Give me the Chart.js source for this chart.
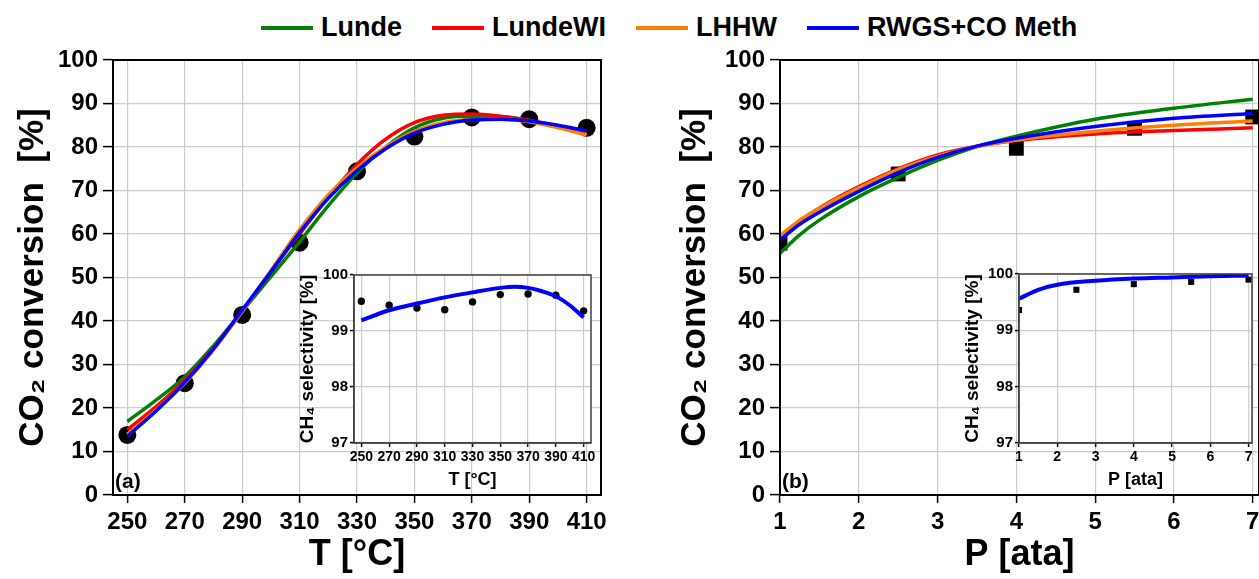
<!DOCTYPE html>
<html>
<head>
<meta charset="utf-8">
<script src="https://cdn.jsdelivr.net/npm/chart.js@4"></script>
<style>
  html, body { margin: 0; padding: 0; background: #fff; }
  body { position: relative; width: 1259px; height: 579px; overflow: hidden; }
  canvas { position: absolute; }
  #leyenda { position: absolute; left: 261px; top: 12px; display: flex; align-items: center;
             font: bold 27px "Liberation Sans", Arial, sans-serif; line-height: 31px; }
  .item { display: flex; align-items: center; margin-right: 30px; }
  .linea { width: 52px; height: 4px; margin-right: 8px; }
</style>
</head>
<body>
<div id="leyenda"></div>
<canvas id="convT" width="640" height="579" style="left:0;top:0"></canvas>
<canvas id="convP" width="640" height="579" style="left:640px;top:0"></canvas>
<canvas id="selT" width="320" height="240" style="left:290px;top:255px"></canvas>
<canvas id="selP" width="310" height="240" style="left:955px;top:255px"></canvas>
<script>
// Conversión de CO2 y selectividad a CH4: modelos cinéticos frente a datos experimentales
const seriesNames = ['Lunde', 'LundeWI', 'LHHW', 'RWGS+CO Meth'];
const seriesColors = ['#008000', '#ff0000', '#ff8000', '#0000ff'];

// (a) efecto de la temperatura
const tModel = [250, 260, 270, 280, 290, 300, 310, 320, 330, 340, 350, 360, 370, 380, 390, 400, 410];
const convLundeT   = [16.9, 21.8, 27.2, 34.3, 42.2, 50.2, 58.2, 66.5, 74.0, 80.0, 84.4, 86.6, 87.1, 87.0, 86.1, 84.7, 83.1];
const convLundeWIT = [15.0, 20.3, 26.4, 33.7, 42.3, 51.3, 60.0, 68.5, 76.0, 81.8, 85.6, 87.3, 87.6, 87.1, 86.1, 84.6, 83.0];
const convLHHWT    = [14.0, 19.5, 25.7, 33.4, 42.2, 51.6, 61.0, 69.0, 75.2, 80.0, 83.6, 85.6, 86.3, 86.4, 85.8, 84.4, 82.8];
const convRWGST    = [13.5, 19.3, 25.9, 33.6, 42.5, 51.3, 60.3, 68.2, 74.6, 79.6, 83.2, 85.2, 86.2, 86.4, 86.0, 85.0, 83.7];
const tExp = [250, 270, 290, 310, 330, 350, 370, 390, 410];
const convExpT = [13.8, 25.7, 41.4, 58.0, 74.4, 82.4, 86.8, 86.4, 84.4];
const tSel = [250, 270, 290, 310, 330, 350, 360, 370, 380, 390, 400, 410];
const selModelT = [99.19, 99.37, 99.49, 99.60, 99.69, 99.77, 99.79, 99.77, 99.71, 99.62, 99.46, 99.24];
const selExpT = [99.53, 99.46, 99.41, 99.38, 99.52, 99.65, 99.66, 99.64, 99.36];

// (b) efecto de la presión
const pModel = [1, 1.25, 1.5, 2, 2.5, 3, 3.5, 4, 5, 6, 7];
const convLundeP   = [55.6, 59.8, 63.2, 68.6, 73.0, 76.9, 80.1, 82.5, 86.4, 88.9, 91.0];
const convLundeWIP = [59.1, 63.0, 66.0, 70.9, 75.0, 78.2, 80.2, 81.5, 83.0, 83.8, 84.4];
const convLHHWP    = [59.6, 63.2, 65.9, 70.6, 74.8, 77.9, 80.1, 81.6, 83.6, 85.0, 86.0];
const convRWGSP    = [58.6, 62.2, 65.0, 69.8, 74.1, 77.6, 80.2, 82.0, 84.7, 86.6, 87.7];
const pExp = [1, 2.5, 4, 5.5, 7];
const convExpP = [57.9, 73.8, 79.7, 84.3, 86.9];
const pSel = [1, 1.5, 2, 3, 4, 5, 6, 7];
const selModelP = [99.56, 99.72, 99.81, 99.88, 99.92, 99.94, 99.96, 99.97];
const selExpP = [99.36, 99.72, 99.82, 99.86, 99.90];

// marcas de los ejes
const convTicks = [0, 10, 20, 30, 40, 50, 60, 70, 80, 90, 100];
const tTicks = [250, 270, 290, 310, 330, 350, 370, 390, 410];
const pTicks = [1, 2, 3, 4, 5, 6, 7];
const selTicks = [97, 98, 99, 100];

Chart.defaults.font.family = '"Liberation Sans", Arial, sans-serif';
Chart.defaults.font.weight = 'bold';
Chart.defaults.color = '#000';

// leyenda común arriba
const leyenda = document.getElementById('leyenda');
seriesNames.forEach((n, i) => {
  const it = document.createElement('div');
  it.className = 'item';
  it.innerHTML = '<span class="linea" style="background:' + seriesColors[i] + '"></span>' + n;
  leyenda.appendChild(it);
});

const pts = (xs, ys) => xs.map((x, i) => ({ x: x, y: ys[i] }));

// marco, fondo blanco y rótulo (a)/(b)
const marco = {
  id: 'marco',
  beforeDraw(chart, args, o) {
    if (!o.fondo) return;
    const a = chart.chartArea, ctx = chart.ctx;
    ctx.save();
    ctx.fillStyle = '#fff';
    ctx.fillRect(a.left, a.top, a.right - a.left, a.bottom - a.top);
    ctx.restore();
  },
  afterDraw(chart, args, o) {
    const a = chart.chartArea, ctx = chart.ctx;
    ctx.save();
    ctx.strokeStyle = o.color;
    ctx.lineWidth = o.ancho;
    ctx.strokeRect(a.left, a.top, a.right - a.left, a.bottom - a.top);
    if (o.rotulo) {
      ctx.fillStyle = '#000';
      ctx.font = 'bold 21px "Liberation Sans", Arial, sans-serif';
      ctx.textBaseline = 'bottom';
      ctx.fillText(o.rotulo, a.left + 2, a.bottom - 2);
    }
    ctx.restore();
  }
};

function curva(xs, ys, i, ancho) {
  return {
    label: seriesNames[i], data: pts(xs, ys), borderColor: seriesColors[i],
    borderWidth: ancho, pointRadius: 0, cubicInterpolationMode: 'monotone',
    fill: false, order: 4 - i
  };
}

function puntos(xs, ys, estilo, radio, recorte) {
  const d = {
    label: 'exp', data: pts(xs, ys), showLine: false, pointStyle: estilo,
    pointRadius: radio, pointBackgroundColor: '#000', pointBorderColor: '#000',
    pointBorderWidth: 0, order: 5
  };
  if (recorte !== undefined) d.clip = recorte;
  return d;
}

function eje(cfg) {
  return {
    type: 'linear', min: cfg.min, max: cfg.max,
    afterBuildTicks: s => { s.ticks = cfg.ticks.map(v => ({ value: v })); },
    afterFit: s => {
      if (cfg.ancho) s.width = cfg.ancho;
      if (cfg.alto) s.height = cfg.alto;
      s.paddingLeft = 0; s.paddingRight = 0;
    },
    border: { color: cfg.borde, width: cfg.grosor },
    grid: { color: '#cccccc', lineWidth: 1.2, tickColor: '#000', tickLength: cfg.tick, tickWidth: 1.5 },
    ticks: { font: { size: cfg.fuente }, padding: cfg.pad, maxRotation: 0, autoSkip: false },
    title: { display: true, text: cfg.titulo, font: { size: cfg.fuenteTitulo }, padding: cfg.padTitulo }
  };
}

function grafico(id, datasets, x, y, padding, marcoOpts) {
  return new Chart(document.getElementById(id), {
    type: 'line',
    data: { datasets: datasets },
    options: {
      responsive: false, animation: false, devicePixelRatio: 1,
      layout: { padding: padding },
      scales: { x: x, y: y },
      plugins: { legend: { display: false }, tooltip: { enabled: false }, marco: marcoOpts }
    },
    plugins: [marco]
  });
}

// (a) conversión vs temperatura
grafico('convT', [
  curva(tModel, convLundeT, 0, 3.5),
  curva(tModel, convLundeWIT, 1, 3.5),
  curva(tModel, convLHHWT, 2, 3.5),
  curva(tModel, convRWGST, 3, 3.5),
  puntos(tExp, convExpT, 'circle', 9)
],
  eje({ min: 245, max: 415, ticks: tTicks, alto: 84, borde: '#000', grosor: 2, tick: 8, fuente: 24, pad: 5,
        titulo: 'T [°C]', fuenteTitulo: 36, padTitulo: { top: 0, bottom: 2 } }),
  eje({ min: 0, max: 100, ticks: convTicks, ancho: 113, borde: '#000', grosor: 2, tick: 10, fuente: 24, pad: 5,
        titulo: 'CO₂ conversion  [%]', fuenteTitulo: 35, padTitulo: { top: 12, bottom: 0 } }),
  { top: 60, right: 39, left: 0, bottom: 0 },
  { color: '#000', ancho: 2, rotulo: '(a)', fondo: false });

// (b) conversión vs presión
grafico('convP', [
  curva(pModel, convLundeP, 0, 3.5),
  curva(pModel, convLundeWIP, 1, 3.5),
  curva(pModel, convLHHWP, 2, 3.5),
  curva(pModel, convRWGSP, 3, 3.5),
  puntos(pExp, convExpP, 'rect', 10.5, 0)
],
  eje({ min: 1, max: 7.08, ticks: pTicks, alto: 84, borde: '#000', grosor: 2, tick: 8, fuente: 24, pad: 5,
        titulo: 'P [ata]', fuenteTitulo: 36, padTitulo: { top: 0, bottom: 2 } }),
  eje({ min: 0, max: 100, ticks: convTicks, ancho: 140, borde: '#000', grosor: 2, tick: 10, fuente: 24, pad: 5,
        titulo: 'CO₂ conversion  [%]', fuenteTitulo: 35, padTitulo: { top: 34, bottom: 0 } }),
  { top: 60, right: 21, left: 0, bottom: 0 },
  { color: '#000', ancho: 2, rotulo: '(b)', fondo: false });

// recuadro: selectividad vs temperatura
grafico('selT', [
  curva(tSel, selModelT, 3, 4),
  puntos(tExp, selExpT, 'circle', 3.7)
],
  eje({ min: 244.7, max: 415.3, ticks: tTicks, alto: 52, borde: '#404040', grosor: 1.5, tick: 4, fuente: 14, pad: 2,
        titulo: 'T [°C]', fuenteTitulo: 18, padTitulo: { top: 0, bottom: 4 } }),
  eje({ min: 97, max: 100, ticks: selTicks, ancho: 64, borde: '#404040', grosor: 1.5, tick: 4, fuente: 15, pad: 2,
        titulo: 'CH₄ selectivity [%]', fuenteTitulo: 19, padTitulo: { top: 6, bottom: 0 } }),
  { top: 20, right: 19, left: 0, bottom: 0 },
  { color: '#404040', ancho: 1.5, rotulo: '', fondo: true });

// recuadro: selectividad vs presión
grafico('selP', [
  curva(pSel, selModelP, 3, 4),
  puntos(pExp, selExpP, 'rect', 4.3, 0)
],
  eje({ min: 1, max: 7.09, ticks: pTicks, alto: 52, borde: '#404040', grosor: 1.5, tick: 4, fuente: 14, pad: 2,
        titulo: 'P [ata]', fuenteTitulo: 18, padTitulo: { top: 0, bottom: 4 } }),
  eje({ min: 97, max: 100, ticks: selTicks, ancho: 64, borde: '#404040', grosor: 1.5, tick: 4, fuente: 15, pad: 2,
        titulo: 'CH₄ selectivity [%]', fuenteTitulo: 19, padTitulo: { top: 6, bottom: 0 } }),
  { top: 19, right: 13, left: 0, bottom: 0 },
  { color: '#404040', ancho: 1.5, rotulo: '', fondo: true });
</script>
</body>
</html>
